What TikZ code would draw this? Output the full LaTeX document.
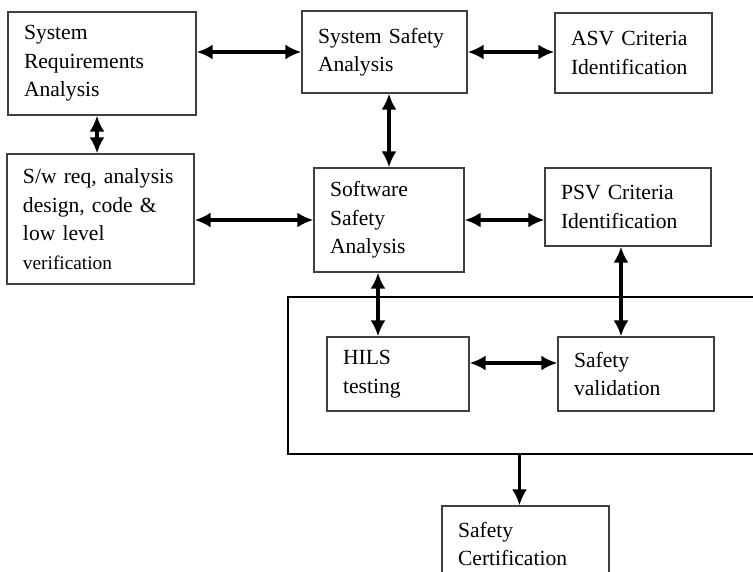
\documentclass[tikz,border=0pt]{standalone}
\usepackage{fontspec}
\setmainfont[WordSpace=0.85]{Liberation Serif}
\usetikzlibrary{arrows.meta}

\begin{document}
\begin{tikzpicture}[
    x=1pt, y=-1pt,
    block/.style={rectangle, draw=black!75, line width=1.2pt, align=left, inner xsep=16pt, inner ysep=0pt, font=\fontsize{21.6}{28.5}\selectfont},
    group/.style={rectangle, draw, line width=2.2pt, inner sep=0pt},
    line/.style={draw, {Latex[length=16pt,width=15pt]}-{Latex[length=16pt,width=15pt]}, line width=3.4pt},
    oneway/.style={draw, -{Latex[length=16pt,width=15pt]}, line width=3.4pt}
]
    \useasboundingbox (0,0) rectangle (753,572);

    \node [block, text width=156pt, minimum height=103pt] (sysreq) at (102,63.5) {System\\Requirements\\Analysis};
    \node [block, text width=133pt, minimum height=82pt] (syssafety) at (384.5,52) {System Safety\\Analysis};
    \node [block, text width=125pt, minimum height=80pt] (asv) at (633.5,53) {ASV Criteria\\Identification};
    \node [block, text width=155pt, minimum height=130pt] (swreq) at (100.5,219) {S/w req, analysis\\design, code \&\\low level\\{\fontsize{19.3}{28.5}\selectfont verification}};
    \node [block, text width=118pt, minimum height=104pt] (software) at (389,220) {Software\\Safety\\Analysis};
    \node [block, text width=134pt, minimum height=78pt] (psv) at (628,207) {PSV Criteria\\Identification};

    \node [group, minimum width=487pt, minimum height=157pt] (testing) at (531.5,375.5) {};
    \node [block, text width=110pt, minimum height=74pt] (hils) at (398,374) {HILS\\testing};
    \node [block, text width=124pt, minimum height=74pt] (validation) at (636,374) {Safety\\validation};
    \node [block, text width=135pt, minimum height=76pt] (cert) at (525.5,544) {Safety\\Certification};

    \draw [line] (syssafety.west -| sysreq.east) -- (syssafety.west);
    \draw [line] (syssafety.east) -- (syssafety.east -| asv.west);
    \draw [line] ([xshift=-5pt]sysreq.south) -- ([xshift=-5pt]sysreq.south |- swreq.north);
    \draw [line] (syssafety.south -| software.north) -- (software.north);
    \draw [line] (software.west -| swreq.east) -- (software.west);
    \draw [line] (software.east) -- (software.east -| psv.west);
    \draw [line] ([xshift=-11pt]software.south) -- ([xshift=-11pt]software.south |- hils.north);
    \draw [line] ([xshift=-7pt]psv.south) -- ([xshift=-7pt]psv.south |- validation.north);
    \draw [line] ([yshift=11pt]hils.east) -- ([yshift=11pt]hils.east -| validation.west);
    \draw [oneway] ([xshift=-6pt]cert.north |- testing.south) -- ([xshift=-6pt]cert.north);
\end{tikzpicture}
\end{document}
